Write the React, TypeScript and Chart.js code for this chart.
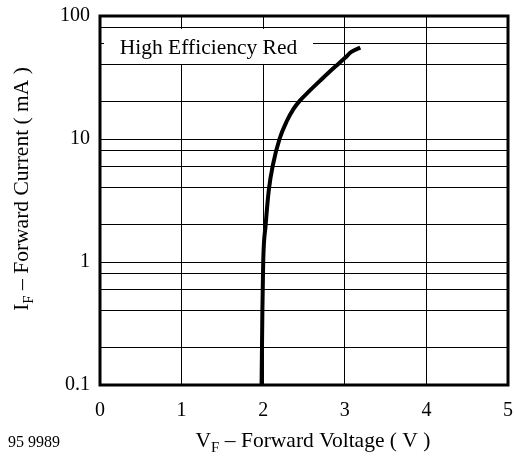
import React, { useEffect, useRef } from "react";
import { Chart, registerables } from "chart.js";

Chart.register(...registerables);

const voltage = [1.98, 1.99, 2.0, 2.03, 2.07, 2.12, 2.2, 2.29, 2.37, 2.45, 2.57, 2.7, 2.82, 2.91, 3.0, 3.08, 3.19];
const current = [0.1, 0.4, 1.0, 2.0, 3.9, 6.2, 10, 14, 17.5, 20.5, 24.7, 29.9, 35.5, 40.2, 45.5, 51, 55.3];
const yGridValues = [0.1, 0.2, 0.4, 0.6, 0.8, 1, 2, 4, 6, 8, 10, 20, 40, 60, 80, 100];
const yTickLabels = ["0.1", "1", "10", "100"];
const xTickValues = [0, 1, 2, 3, 4, 5];
const seriesLabel = "High Efficiency Red";
const xTitle = ["V", "F", " \u2013 Forward Voltage ( V )"];
const yTitle = ["I", "F", " \u2013 Forward Current ( mA )"];
const figureId = "95 9989";

const SERIF = "'Liberation Serif', 'Times New Roman', serif";

function drawSubText(ctx: CanvasRenderingContext2D, cx: number, y: number, parts: string[], size: number) {
  const main = `${size}px ${SERIF}`;
  const sub = `${Math.round(size * 0.72)}px ${SERIF}`;
  ctx.font = main;
  const w0 = ctx.measureText(parts[0]).width;
  const w2 = ctx.measureText(parts[2]).width;
  ctx.font = sub;
  const w1 = ctx.measureText(parts[1]).width;
  let x = cx - (w0 + w1 + w2) / 2;
  ctx.textAlign = "left";
  ctx.textBaseline = "alphabetic";
  ctx.font = main;
  ctx.fillText(parts[0], x, y);
  x += w0;
  ctx.font = sub;
  ctx.fillText(parts[1], x, y + size * 0.25);
  x += w1;
  ctx.font = main;
  ctx.fillText(parts[2], x, y);
}

const decorPlugin = {
  id: "decor",
  beforeDatasetsDraw(chart: any) {
    const { ctx, chartArea, scales } = chart;
    const left = chartArea.left + 4;
    const right = scales.x.getPixelForValue(2.61);
    const top = scales.y.getPixelForValue(80) + 1;
    const bottom = scales.y.getPixelForValue(40) - 1;
    ctx.save();
    ctx.fillStyle = "#fff";
    ctx.fillRect(left, top, right - left, bottom - top);
    ctx.fillStyle = "#000";
    ctx.font = `21.5px ${SERIF}`;
    ctx.textAlign = "center";
    ctx.textBaseline = "alphabetic";
    ctx.fillText(seriesLabel, (left + right) / 2, (top + bottom) / 2 + 7.5);
    ctx.restore();
  },
  afterDatasetsDraw(chart: any) {
    const { ctx, chartArea } = chart;
    ctx.save();
    ctx.strokeStyle = "#000";
    ctx.lineWidth = 3;
    ctx.strokeRect(chartArea.left, chartArea.top, chartArea.right - chartArea.left, chartArea.bottom - chartArea.top);
    ctx.fillStyle = "#000";
    drawSubText(ctx, 313, 447, xTitle, 21.5);
    ctx.save();
    ctx.translate(28, 189);
    ctx.rotate(-Math.PI / 2);
    drawSubText(ctx, 0, 0, yTitle, 21.5);
    ctx.restore();
    ctx.font = `16px ${SERIF}`;
    ctx.textAlign = "left";
    ctx.textBaseline = "alphabetic";
    ctx.fillText(figureId, 8, 447);
    ctx.restore();
  },
};

export default function App() {
  const ref = useRef<HTMLCanvasElement | null>(null);
  useEffect(() => {
    if (!ref.current) return;
    const chart = new Chart(ref.current, {
      type: "line",
      data: {
        datasets: [
          {
            label: seriesLabel,
            data: voltage.map((v, i) => ({ x: v, y: current[i] })),
            borderColor: "#000",
            borderWidth: 4,
            pointRadius: 0,
            cubicInterpolationMode: "monotone",
            fill: false,
          },
        ],
      },
      options: {
        animation: false,
        responsive: false,
        devicePixelRatio: 1,
        layout: { padding: { top: 16, right: 6, left: 0, bottom: 0 } },
        plugins: { legend: { display: false }, tooltip: { enabled: false } },
        scales: {
          x: {
            type: "linear",
            min: 0,
            max: 5,
            afterBuildTicks: (s: any) => {
              s.ticks = xTickValues.map((v) => ({ value: v }));
            },
            afterFit: (s: any) => {
              s.height = 72;
              s.paddingLeft = 0;
              s.paddingRight = 0;
            },
            grid: { color: "#000", lineWidth: 1, drawTicks: false },
            border: { display: false },
            ticks: {
              color: "#000",
              padding: 14,
              font: { family: SERIF, size: 20 },
              callback: (v: any) => String(v),
            },
          },
          y: {
            type: "logarithmic",
            min: 0.1,
            max: 100,
            afterBuildTicks: (s: any) => {
              s.ticks = yGridValues.map((v) => ({ value: v }));
            },
            afterFit: (s: any) => {
              s.width = 100;
              s.paddingTop = 0;
              s.paddingBottom = 0;
            },
            grid: { color: "#000", lineWidth: 1, drawTicks: false },
            border: { display: false },
            ticks: {
              color: "#000",
              padding: 10,
              autoSkip: false,
              font: { family: SERIF, size: 20 },
              callback: (v: any) => {
                const s = String(v);
                return yTickLabels.includes(s) ? s : "";
              },
            },
          },
        },
      },
      plugins: [decorPlugin],
    });
    return () => chart.destroy();
  }, []);
  return (
    <div style={{ position: "absolute", left: 0, top: 0, width: 514, height: 457, background: "#fff" }}>
      <canvas ref={ref} width={514} height={457} style={{ display: "block" }} />
    </div>
  );
}
